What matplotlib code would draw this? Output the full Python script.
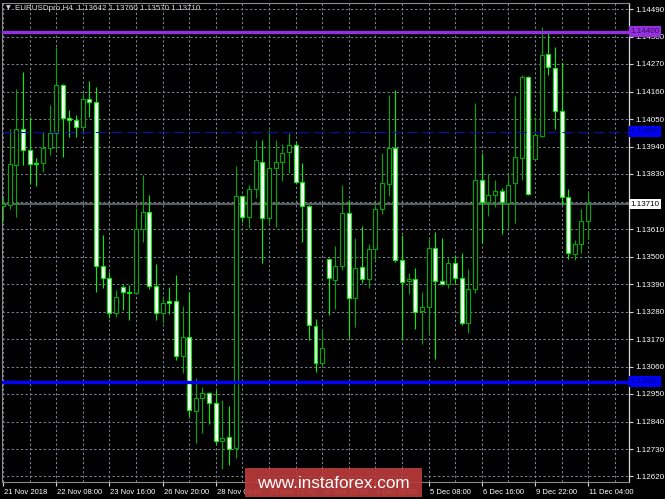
import matplotlib
matplotlib.use("Agg")
import matplotlib.pyplot as plt
from matplotlib.patches import Rectangle
import matplotlib.transforms as mtransforms

plt.rcParams['font.family'] = ['Liberation Sans', 'DejaVu Sans']

# ---------------- data (EURUSD H4) ----------------
opens = [1.13702, 1.13706, 1.13866, 1.14010, 1.13926, 1.13874, 1.13874, 1.13934, 1.13994, 1.14186,
         1.14054, 1.14046, 1.14018, 1.14130, 1.14118, 1.13462, 1.13414, 1.13274, 1.13378, 1.13358,
         1.13354, 1.13610, 1.13678, 1.13382, 1.13274, 1.13322, 1.13322, 1.13102, 1.13178, 1.12882,
         1.12934, 1.12954, 1.12914, 1.12762, 1.12778, 1.12734, 1.13742, 1.13658, 1.13770, 1.13878,
         1.13654, 1.13854, 1.13878, 1.13918, 1.13946, 1.13798, 1.13702, 1.13222, 1.13074, 1.13490,
         1.13406, 1.13462, 1.13674, 1.13334, 1.13458, 1.13410, 1.13530, 1.13690, 1.13790, 1.13934,
         1.13486, 1.13402, 1.13410, 1.13282, 1.13298, 1.13534, 1.13402, 1.13390, 1.13474, 1.13414,
         1.13234, 1.13370, 1.13806, 1.13718, 1.13746, 1.13762, 1.13714, 1.13794, 1.13894, 1.14218,
         1.13890, 1.13982, 1.14310, 1.14254, 1.14082, 1.13738, 1.13510, 1.13550, 1.13642]
highs = [1.13738, 1.14010, 1.14170, 1.14238, 1.14058, 1.13894, 1.13998, 1.14106, 1.14338, 1.14190,
         1.14086, 1.14066, 1.14154, 1.14202, 1.14178, 1.13586, 1.13438, 1.13366, 1.13386, 1.13386,
         1.13694, 1.13826, 1.13746, 1.13470, 1.13342, 1.13378, 1.13426, 1.13302, 1.13358, 1.13014,
         1.12978, 1.12958, 1.12966, 1.12926, 1.12902, 1.13862, 1.13746, 1.13786, 1.13966, 1.13966,
         1.14006, 1.13966, 1.13950, 1.13994, 1.13958, 1.13874, 1.13706, 1.13250, 1.13210, 1.13494,
         1.13542, 1.13786, 1.13726, 1.13574, 1.13622, 1.13550, 1.13714, 1.13914, 1.14146, 1.14166,
         1.13586, 1.13434, 1.13454, 1.13358, 1.13574, 1.13598, 1.13574, 1.13494, 1.13506, 1.13514,
         1.13450, 1.14114, 1.13914, 1.13830, 1.13806, 1.13774, 1.13830, 1.14142, 1.14226, 1.14222,
         1.14058, 1.14418, 1.14394, 1.14338, 1.14278, 1.13770, 1.13566, 1.13690, 1.13760]
lows = [1.13642, 1.13690, 1.13658, 1.13866, 1.13794, 1.13782, 1.13838, 1.13906, 1.13926, 1.13898,
        1.13978, 1.13978, 1.13998, 1.14058, 1.13358, 1.13374, 1.13254, 1.13258, 1.13286, 1.13246,
        1.13350, 1.13558, 1.13370, 1.13246, 1.13234, 1.13270, 1.13086, 1.13034, 1.12858, 1.12754,
        1.12794, 1.12830, 1.12750, 1.12650, 1.12666, 1.12694, 1.13638, 1.13614, 1.13734, 1.13474,
        1.13634, 1.13618, 1.13802, 1.13834, 1.13794, 1.13558, 1.13166, 1.13038, 1.13058, 1.13266,
        1.13290, 1.13446, 1.13174, 1.13218, 1.13394, 1.13374, 1.13486, 1.13670, 1.13742, 1.13478,
        1.13166, 1.13350, 1.13210, 1.13150, 1.13194, 1.13090, 1.13386, 1.13374, 1.13394, 1.13226,
        1.13194, 1.13354, 1.13554, 1.13662, 1.13698, 1.13590, 1.13614, 1.13634, 1.13806, 1.13746,
        1.13886, 1.13978, 1.14226, 1.14010, 1.13706, 1.13490, 1.13486, 1.13514, 1.13570]
closes = [1.13710, 1.13870, 1.14010, 1.13926, 1.13870, 1.13870, 1.13934, 1.13994, 1.14186, 1.14054,
          1.14046, 1.14018, 1.14130, 1.14118, 1.13462, 1.13414, 1.13274, 1.13338, 1.13358, 1.13356,
          1.13610, 1.13678, 1.13382, 1.13274, 1.13314, 1.13314, 1.13102, 1.13178, 1.12886, 1.12934,
          1.12954, 1.12914, 1.12762, 1.12774, 1.12730, 1.13742, 1.13658, 1.13770, 1.13886, 1.13654,
          1.13854, 1.13878, 1.13914, 1.13946, 1.13798, 1.13702, 1.13226, 1.13074, 1.13134, 1.13414,
          1.13462, 1.13674, 1.13334, 1.13454, 1.13410, 1.13530, 1.13690, 1.13794, 1.13934, 1.13486,
          1.13398, 1.13410, 1.13278, 1.13298, 1.13534, 1.13402, 1.13390, 1.13474, 1.13414, 1.13234,
          1.13370, 1.13806, 1.13718, 1.13746, 1.13762, 1.13718, 1.13786, 1.13898, 1.14218, 1.13750,
          1.13986, 1.14306, 1.14258, 1.14082, 1.13738, 1.13514, 1.13550, 1.13642, 1.13710]

xtick_bars = [0, 8, 16, 24, 32, 40, 48, 56, 64, 72, 80, 88]
xtick_labels = ["21 Nov 2018", "22 Nov 08:00", "23 Nov 16:00", "26 Nov 20:00", "28 Nov 04:00",
                "29 Nov 12:00", "30 Nov 20:00", "4 Dec 00:00", "5 Dec 08:00", "6 Dec 16:00",
                "9 Dec 22:00", "11 Dec 04:00"]
ytick_prices = [1.14490, 1.14380, 1.14270, 1.14160, 1.14050, 1.13940, 1.13830, 1.13720, 1.13610,
                1.13500, 1.13390, 1.13280, 1.13170, 1.13060, 1.12950, 1.12840, 1.12730, 1.12620]
hidden_ytick = 1.13720   # covered by the last-price box in the terminal

level_purple = 1.14400
level_blue = 1.13000
level_dash = 1.14000
last_price = 1.13710
title = "EURUSDpro,H4  1.13642 1.13760 1.13570 1.13710"

# ---------------- figure ----------------
W, H = 665, 499
fig = plt.figure(figsize=(W / 100, H / 100), dpi=100, facecolor='black')
L, R, T, B = 2, 629, 3, 482
ax = fig.add_axes([L / W, 1 - B / H, (R - L) / W, (B - T) / H])
ax.set_facecolor('black')
ax.set_xlim(-0.15, 94.15)
ax.set_ylim(1.12598, 1.14514)

GRID = '#77828f'
for p in ytick_prices:
    ax.axhline(p, color=GRID, lw=0.75, dashes=(2.2, 2.2), zorder=1)
for b in range(0, 96, 4):
    ax.axvline(b, color=GRID, lw=0.75, dashes=(2.2, 2.2), zorder=1)

# current price line (behind candles)
ax.axhline(last_price, color='#585d64', lw=1.5, zorder=1.5)

BULL = '#00a800'
BEAR = '#00f000'
for i in range(len(opens)):
    o, h, l, c = opens[i], highs[i], lows[i], closes[i]
    bull = c >= o
    col = BULL if bull else BEAR
    ax.vlines(i, l, h, color=col, lw=0.8, zorder=2)
    bot = min(o, c)
    hgt = max(abs(c - o), 0.000001)
    ax.bar(i, hgt, bottom=bot, width=0.6, facecolor='black' if bull else 'white',
           edgecolor=col, linewidth=0.8, zorder=3)

# horizontal levels
ax.axhline(level_purple, color='#9430e0', lw=2.4, zorder=4)
ax.axhline(level_blue, color='#0000ff', lw=2.4, zorder=4)
ax.axhline(level_dash, color='#0a0ab4', lw=0.8, dashes=(10, 4), zorder=4)

# axes / spines
for s in ['left', 'top', 'bottom']:
    ax.spines[s].set_color('#8a8a8a')
    ax.spines[s].set_linewidth(0.8)
ax.spines['right'].set_color('#d8d8d8')
ax.spines['right'].set_linewidth(0.9)

ax.yaxis.tick_right()
ax.set_yticks(ytick_prices)
ax.set_yticklabels(["" if p == hidden_ytick else f"{p:.5f}" for p in ytick_prices])
ax.tick_params(axis='y', colors='#d8d8d8', labelcolor='white', length=3, width=0.8,
               labelsize=5.8, pad=1.5, direction='out')
ax.set_xticks(xtick_bars)
ax.set_xticklabels(xtick_labels)
ax.tick_params(axis='x', colors='#d8d8d8', labelcolor='white', length=3, width=0.8,
               labelsize=5.5, pad=2, direction='out')
for lab in ax.get_xticklabels():
    lab.set_horizontalalignment('left')
    lab.set_transform(lab.get_transform() + mtransforms.ScaledTranslation(1 / 100, 0, fig.dpi_scale_trans))

# price-level labels on axis
trans = mtransforms.blended_transform_factory(ax.transAxes, ax.transData)
def level_label(price, bg, fg):
    ax.text(1.0025, price, f"{price:.5f}", transform=trans, fontsize=5.8, color=fg,
            ha='left', va='center', zorder=10, clip_on=False,
            bbox=dict(boxstyle='square,pad=0.22', facecolor=bg, edgecolor='none'))
level_label(level_purple, '#9430e0', '#3a1060')
level_label(level_dash, '#0000ff', '#00006a')
level_label(last_price, 'white', 'black')
level_label(level_blue, '#0000ff', '#00006a')

# title
fig.text(8 / W, 1 - 8 / H, "\u25BC", color='#d0d0d0', fontsize=4.5, ha='center', va='center',
         family=['DejaVu Sans'])
fig.text(15 / W, 1 - 8 / H, title, color='#d8d8d8', fontsize=5.8, ha='left', va='center')

# watermark
fig.patches.append(Rectangle((245 / W, 1 - 497 / H), 177 / W, 29 / H, transform=fig.transFigure,
                             facecolor='#b83a3a', edgecolor='none', alpha=0.93, zorder=20))
fig.text(333 / W, 1 - 483 / H, "www.instaforex.com", color='white', fontsize=12.3,
         ha='center', va='center', zorder=21)

fig.savefig('out.png', dpi=100, facecolor='black')
